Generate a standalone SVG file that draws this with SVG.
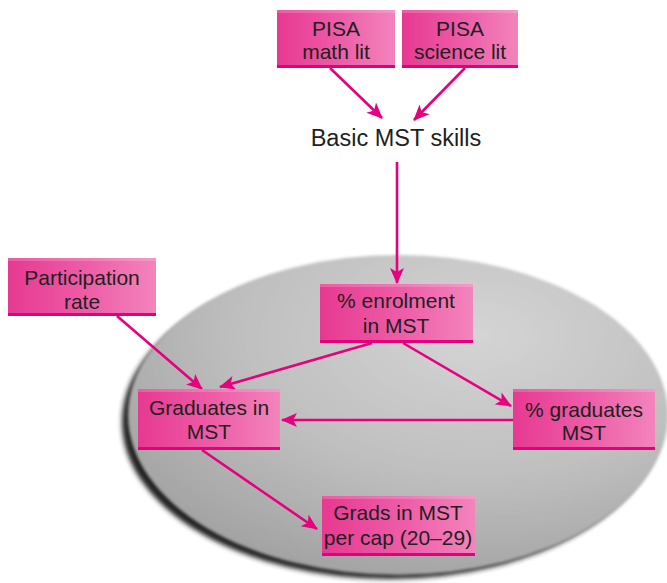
<svg xmlns="http://www.w3.org/2000/svg" width="667" height="583" viewBox="0 0 667 583">
<style>
.lbl{font-family:"Liberation Sans",Arial,sans-serif;font-size:21px;fill:#231f20;text-anchor:middle}
.big{font-size:23.5px}
.box{fill:url(#boxg)}
.edge{fill:#e3007d}
.hl{fill:#ffffff;opacity:0.18}
.con{stroke:#e6007e;stroke-width:2.6;fill:none;marker-end:url(#ah)}
</style>
<defs>
<linearGradient id="boxg" x1="0" y1="0" x2="1" y2="0">
<stop offset="0" stop-color="#e73991"/>
<stop offset="0.55" stop-color="#ee5ea8"/>
<stop offset="1" stop-color="#f384bc"/>
</linearGradient>
<radialGradient id="ellg" cx="0.65" cy="0.25" r="0.8">
<stop offset="0" stop-color="#d4d4d4"/>
<stop offset="0.55" stop-color="#bfbfbf"/>
<stop offset="1" stop-color="#a2a2a2"/>
</radialGradient>
<filter id="blur" x="-10%" y="-10%" width="120%" height="120%">
<feGaussianBlur stdDeviation="2.5"/>
</filter>
<filter id="soft" x="-10%" y="-10%" width="120%" height="120%">
<feGaussianBlur stdDeviation="1.5"/>
</filter>
<marker id="ah" viewBox="0 0 16 14" refX="15" refY="7" markerWidth="16" markerHeight="14" markerUnits="userSpaceOnUse" orient="auto">
<path d="M0,0 L16,7 L0,14 L4,7 Z" fill="#e6007e"/>
</marker>
</defs>

<g id="backdrop">
<ellipse cx="390" cy="422" rx="268" ry="157" fill="#202020" filter="url(#blur)"/>
<ellipse cx="398" cy="415" rx="270" ry="160" fill="url(#ellg)" filter="url(#soft)"/>
</g>

<g id="connectors">
<line class="con" x1="330" y1="68" x2="382" y2="118"/>
<line class="con" x1="465" y1="68" x2="414" y2="120"/>
<line class="con" x1="397" y1="162" x2="397" y2="283"/>
<line class="con" x1="117" y1="316" x2="202" y2="389"/>
<line class="con" x1="372" y1="343" x2="220" y2="387"/>
<line class="con" x1="403" y1="343" x2="511" y2="406"/>
<line class="con" x1="513" y1="420" x2="282" y2="420"/>
<line class="con" x1="202" y1="450" x2="317" y2="529"/>
</g>

<g id="pisa-math">
<rect class="box" x="277" y="10" width="118" height="58"/>
<rect class="edge" x="277" y="65" width="118" height="3"/>
<rect class="hl" x="277" y="10" width="118" height="3"/>
<text class="lbl" x="336" y="36">PISA</text>
<text class="lbl" x="336" y="59">math lit</text>
</g>

<g id="pisa-science">
<rect class="box" x="402" y="10" width="116" height="58"/>
<rect class="edge" x="402" y="65" width="116" height="3"/>
<rect class="hl" x="402" y="10" width="116" height="3"/>
<text class="lbl" x="460" y="36">PISA</text>
<text class="lbl" x="460" y="59">science lit</text>
</g>

<g id="basic-skills">
<text class="lbl big" x="396" y="146">Basic MST skills</text>
</g>

<g id="participation">
<rect class="box" x="8" y="258" width="148" height="58"/>
<rect class="edge" x="8" y="313" width="148" height="3"/>
<rect class="hl" x="8" y="258" width="148" height="3"/>
<text class="lbl" x="82" y="285">Participation</text>
<text class="lbl" x="82" y="309">rate</text>
</g>

<g id="enrolment">
<rect class="box" x="320" y="284" width="153" height="59"/>
<rect class="edge" x="320" y="340" width="153" height="3"/>
<rect class="hl" x="320" y="284" width="153" height="3"/>
<text class="lbl" x="396" y="308">% enrolment</text>
<text class="lbl" x="396" y="333">in MST</text>
</g>

<g id="graduates">
<rect class="box" x="138" y="389" width="142" height="61"/>
<rect class="edge" x="138" y="447" width="142" height="3"/>
<rect class="hl" x="138" y="389" width="142" height="3"/>
<text class="lbl" x="209" y="415">Graduates in</text>
<text class="lbl" x="209" y="439">MST</text>
</g>

<g id="pct-graduates">
<rect class="box" x="513" y="389" width="142" height="61"/>
<rect class="edge" x="513" y="447" width="142" height="3"/>
<rect class="hl" x="513" y="389" width="142" height="3"/>
<text class="lbl" x="584" y="417">% graduates</text>
<text class="lbl" x="584" y="440">MST</text>
</g>

<g id="grads-per-cap">
<rect class="box" x="322" y="496" width="153" height="60"/>
<rect class="edge" x="322" y="553" width="153" height="3"/>
<rect class="hl" x="322" y="496" width="153" height="3"/>
<text class="lbl" x="398" y="520">Grads in MST</text>
<text class="lbl" x="398" y="545">per cap (20–29)</text>
</g>
</svg>
